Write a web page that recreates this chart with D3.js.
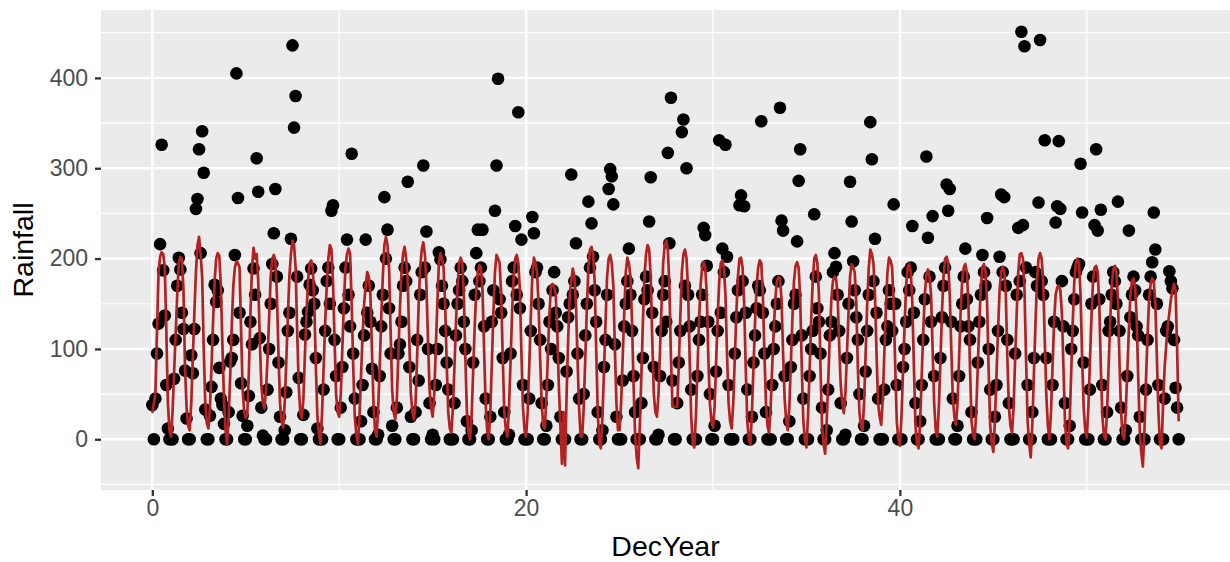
<!DOCTYPE html>
<html>
<head>
<meta charset="utf-8">
<script src="https://cdn.jsdelivr.net/npm/d3@7"></script>
<style>
  body { margin: 0; background: #fff; }
  svg { display: block; font-family: "Liberation Sans", Arial, sans-serif; }
</style>
</head>
<body>
<svg width="1230" height="562"></svg>
<script>
// monthly rainfall, one row per year (DecYear = year + month/12)
var rainfall = [
  38, 0, 45, 95, 128, 216, 326, 187, 137, 60, 12, 0,
  0, 0, 67, 110, 170, 201, 188, 140, 122, 76, 23, 0,
  0, 93, 73, 122, 255, 266, 321, 206, 341, 295, 33, 0,
  0, 26, 58, 110, 171, 152, 165, 79, 45, 38, 17, 0,
  0, 30, 86, 90, 110, 204, 405, 267, 140, 62, 26, 0,
  0, 15, 48, 130, 105, 189, 160, 311, 274, 112, 35, 4,
  0, 0, 55, 100, 150, 194, 228, 277, 180, 85, 25, 0,
  0, 10, 52, 120, 140, 222, 436, 345, 380, 180, 68, 0,
  0, 27, 116, 130, 141, 171, 189, 165, 150, 90, 12, 0,
  0, 0, 55, 120, 175, 190, 150, 253, 259, 110, 70, 0,
  0, 35, 80, 145, 190, 221, 160, 125, 316, 95, 45, 0,
  0, 0, 20, 60, 115, 221, 140, 170, 130, 78, 30, 0,
  0, 5, 70, 125, 160, 268, 200, 232, 145, 95, 15, 0,
  0, 35, 95, 105, 130, 170, 190, 175, 285, 80, 25, 0,
  0, 30, 110, 65, 160, 185, 303, 190, 230, 100, 40, 0,
  5, 0, 60, 100, 207, 199, 170, 150, 120, 85, 55, 0,
  0, 0, 40, 115, 150, 165, 190, 175, 130, 100, 20, 0,
  0, 10, 85, 160, 206, 232, 175, 190, 232, 125, 45, 0,
  0, 25, 130, 165, 253, 303, 399, 155, 140, 90, 30, 0,
  0, 5, 95, 175, 190, 236, 160, 362, 145, 221, 60, 0,
  0, 0, 45, 120, 246, 228, 185, 190, 150, 110, 40, 0,
  0, 15, 60, 130, 100, 165, 185, 140, 125, 90, 25, 0,
  0, 0, 75, 135, 150, 293, 160, 175, 217, 95, 45, 0,
  0, 50, 115, 150, 263, 190, 239, 202, 165, 130, 30, 0,
  0, 10, 80, 110, 160, 277, 299, 291, 260, 105, 25, 0,
  0, 0, 65, 125, 150, 175, 211, 160, 120, 70, 30, 0,
  0, 0, 40, 90, 155, 180, 165, 241, 290, 140, 80, 0,
  0, 5, 70, 120, 160, 175, 130, 317, 217, 378, 65, 0,
  0, 40, 85, 120, 340, 354, 170, 300, 160, 125, 55, 0,
  0, 0, 70, 110, 130, 160, 234, 226, 192, 130, 50, 0,
  0, 15, 75, 120, 331, 140, 211, 185, 326, 202, 60, 0,
  0, 0, 95, 135, 165, 259, 270, 175, 258, 140, 55, 0,
  0, 25, 85, 115, 145, 170, 165, 352, 140, 95, 30, 0,
  0, 0, 60, 100, 125, 150, 175, 367, 242, 231, 70, 0,
  0, 20, 80, 110, 150, 160, 219, 286, 321, 115, 45, 0,
  0, 0, 70, 100, 120, 249, 180, 145, 130, 95, 35, 0,
  0, 10, 55, 115, 130, 185, 206, 191, 160, 120, 40, 0,
  0, 5, 90, 150, 285, 241, 197, 165, 135, 110, 50, 0,
  0, 15, 75, 120, 160, 351, 310, 175, 222, 140, 45, 0,
  0, 0, 55, 110, 125, 165, 150, 120, 260, 150, 60, 0,
  0, 0, 80, 100, 130, 185, 165, 190, 236, 140, 40, 0,
  0, 20, 60, 110, 155, 313, 223, 180, 130, 247, 70, 0,
  0, 0, 90, 135, 170, 190, 282, 253, 277, 130, 45, 0,
  0, 15, 70, 125, 150, 180, 211, 155, 125, 110, 30, 0,
  0, 0, 85, 130, 160, 204, 185, 170, 245, 100, 55, 0,
  0, 25, 60, 120, 202, 271, 185, 268, 170, 110, 40, 0,
  0, 0, 95, 160, 234, 175, 451, 237, 435, 190, 60, 0,
  0, 30, 90, 185, 170, 262, 442, 175, 160, 331, 90, 0,
  0, 0, 60, 130, 240, 258, 330, 255, 175, 125, 40, 0,
  0, 15, 100, 120, 155, 185, 190, 194, 305, 251, 85, 0,
  0, 0, 55, 150, 180, 237, 321, 231, 155, 254, 60, 0,
  0, 30, 120, 130, 160, 185, 175, 150, 263, 120, 35, 0,
  0, 10, 70, 231, 135, 160, 180, 165, 125, 115, 25, 0,
  0, 0, 55, 110, 160, 180, 196, 251, 210, 150, 60, 0,
  0, 0, 45, 120, 125, 186, 175, 167, 110, 57, 35, 0
];

// fitted values (red line), same months
var fitted = [
  29, 40, 52, 120, 185, 202, 207, 205, 190, 120, 40, 10,
  3, 30, 75, 117, 160, 195, 202, 200, 165, 80, 35, 15,
  10, 40, 90, 140, 185, 215, 224, 205, 180, 100, 40, 18,
  12, 35, 80, 130, 175, 200, 206, 203, 170, 105, 45, 10,
  -5, 25, 70, 125, 170, 190, 197, 195, 190, 120, 55, 30,
  24, 28, 75, 140, 190, 212, 200, 205, 175, 110, 60, 40,
  34, 55, 90, 135, 180, 200, 204, 198, 160, 95, 40, 20,
  13, 40, 85, 135, 180, 205, 220, 215, 190, 120, 60, 30,
  23, 45, 95, 140, 175, 195, 198, 190, 150, 80, 25, 5,
  -5, 30, 80, 130, 170, 200, 215, 210, 175, 110, 50, 30,
  25, 50, 100, 150, 190, 205, 211, 205, 150, 80, 25, 5,
  -5, 25, 70, 115, 150, 170, 185, 180, 160, 100, 40, 10,
  3, 35, 80, 135, 180, 215, 224, 215, 190, 120, 55, 30,
  22, 45, 95, 145, 185, 205, 213, 200, 175, 110, 50, 30,
  22, 40, 90, 150, 190, 210, 218, 205, 170, 110, 55, 35,
  25, 50, 100, 150, 195, 206, 200, 190, 150, 85, 30, 12,
  7, 35, 80, 130, 170, 195, 201, 195, 160, 90, 30, 8,
  0, 25, 75, 125, 165, 185, 193, 190, 165, 100, 40, 10,
  0, 30, 85, 140, 185, 204, 200, 195, 160, 90, 30, 10,
  3, 35, 85, 140, 180, 200, 204, 195, 165, 95, 35, 10,
  3, 30, 80, 135, 180, 201, 195, 185, 150, 90, 40, 15,
  12, 45, 95, 140, 170, 172, 168, 160, 120, 60, 15, -27,
  30, -29, 50, 110, 160, 175, 189, 180, 150, 90, 35, 3,
  3, 35, 90, 145, 190, 210, 213, 205, 175, 100, 30, -5,
  -10, 25, 75, 130, 180, 200, 204, 195, 170, 100, 40, 10,
  10, 40, 90, 140, 185, 201, 195, 180, 130, 60, 5, -20,
  -32, 15, 70, 130, 180, 205, 215, 210, 180, 110, 50, 30,
  25, 50, 100, 150, 195, 215, 220, 210, 170, 90, 36, 36,
  36, 36, 80, 135, 185, 205, 210, 200, 165, 90, 25, -5,
  -9, 25, 75, 130, 170, 190, 196, 190, 160, 90, 40, 20,
  13, 35, 85, 135, 175, 195, 198, 190, 160, 95, 40, 20,
  12, 40, 90, 140, 180, 200, 201, 190, 150, 80, 20, 0,
  -5, 30, 80, 130, 170, 190, 198, 195, 160, 95, 40, 15,
  7, 35, 80, 120, 155, 175, 180, 178, 155, 95, 45, 20,
  10, 35, 85, 135, 175, 192, 196, 190, 155, 80, 20, 0,
  -9, 25, 75, 130, 175, 200, 204, 195, 160, 80, 15, -5,
  -16, 20, 65, 115, 155, 175, 180, 178, 160, 105, 60, 40,
  29, 50, 95, 140, 180, 194, 190, 185, 150, 80, 30, 15,
  10, 40, 95, 150, 190, 210, 205, 195, 160, 95, 40, 25,
  16, 45, 95, 145, 185, 201, 198, 190, 150, 80, 20, 0,
  -7, 25, 75, 125, 170, 190, 194, 185, 150, 80, 15, -5,
  -10, 20, 70, 120, 160, 182, 188, 180, 160, 100, 40, 10,
  3, 35, 85, 140, 180, 200, 202, 195, 160, 100, 45, 25,
  16, 40, 90, 140, 175, 190, 194, 185, 150, 80, 20, 5,
  0, 30, 80, 130, 170, 190, 194, 185, 150, 75, 15, -5,
  -14, 20, 70, 120, 165, 185, 191, 185, 160, 90, 35, 15,
  7, 35, 90, 140, 185, 205, 206, 200, 165, 90, 20, -5,
  -20, 15, 70, 125, 175, 200, 206, 200, 175, 110, 50, 15,
  0, 30, 80, 130, 160, 168, 170, 165, 140, 80, 20, -5,
  -10, 20, 75, 130, 175, 195, 200, 195, 160, 90, 35, 10,
  2, 35, 85, 135, 175, 190, 192, 185, 150, 80, 25, 5,
  0, 30, 80, 130, 170, 188, 192, 185, 155, 85, 30, 5,
  0, 30, 75, 120, 160, 175, 178, 170, 135, 70, 10, -15,
  -30, 10, 65, 115, 155, 172, 178, 175, 150, 90, 30, -5,
  -10, 40, 80, 104, 125, 140, 155, 165, 172, 165, 100, 20
];

var xMajor = [0, 20, 40],
    xMinor = [10, 30, 50],
    yMajor = [0, 100, 200, 300, 400],
    yMinor = [-50, 50, 150, 250, 350, 450];

var data = rainfall.map(function(r, i) {
  return { year: i / 12, rain: r, fit: fitted[i] };
});

var svg = d3.select("svg"),
    panel = { left: 101, right: 1230, top: 10, bottom: 490 };

// ggplot style 5% expansion
function expand(ext) {
  var pad = (ext[1] - ext[0]) * 0.05;
  return [ext[0] - pad, ext[1] + pad];
}

var x = d3.scaleLinear()
    .domain(expand(d3.extent(data, function(d) { return d.year; })))
    .range([panel.left, panel.right]);

var y = d3.scaleLinear()
    .domain(expand([d3.min(data, function(d) { return Math.min(d.rain, d.fit); }),
                    d3.max(data, function(d) { return Math.max(d.rain, d.fit); })]))
    .range([panel.bottom, panel.top]);

svg.append("rect")
    .attr("x", panel.left).attr("y", panel.top)
    .attr("width", panel.right - panel.left)
    .attr("height", panel.bottom - panel.top)
    .attr("fill", "#EBEBEB");

var grid = svg.append("g").attr("stroke", "#fff");

grid.selectAll(".ymin").data(yMinor).enter().append("line")
    .attr("x1", panel.left).attr("x2", panel.right)
    .attr("y1", function(d) { return y(d); }).attr("y2", function(d) { return y(d); })
    .attr("stroke-width", 1.2);
grid.selectAll(".xmin").data(xMinor).enter().append("line")
    .attr("y1", panel.top).attr("y2", panel.bottom)
    .attr("x1", function(d) { return x(d); }).attr("x2", function(d) { return x(d); })
    .attr("stroke-width", 1.2);
grid.selectAll(".ymaj").data(yMajor).enter().append("line")
    .attr("x1", panel.left).attr("x2", panel.right)
    .attr("y1", function(d) { return y(d); }).attr("y2", function(d) { return y(d); })
    .attr("stroke-width", 2.4);
grid.selectAll(".xmaj").data(xMajor).enter().append("line")
    .attr("y1", panel.top).attr("y2", panel.bottom)
    .attr("x1", function(d) { return x(d); }).attr("x2", function(d) { return x(d); })
    .attr("stroke-width", 2.4);

var clip = svg.append("clipPath").attr("id", "clip")
  .append("rect")
    .attr("x", panel.left).attr("y", panel.top)
    .attr("width", panel.right - panel.left)
    .attr("height", panel.bottom - panel.top);

var plot = svg.append("g").attr("clip-path", "url(#clip)");

plot.selectAll("circle")
    .data(data)
  .enter().append("circle")
    .attr("cx", function(d) { return x(d.year); })
    .attr("cy", function(d) { return y(d.rain); })
    .attr("r", 6.3)
    .attr("fill", "#000");

var line = d3.line()
    .x(function(d) { return x(d.year); })
    .y(function(d) { return y(d.fit); });

plot.append("path")
    .datum(data)
    .attr("d", line)
    .attr("fill", "none")
    .attr("stroke", "#B22222")
    .attr("stroke-width", 2.7)
    .attr("stroke-linejoin", "round");

// axes
var xAxis = svg.append("g")
    .attr("transform", "translate(0," + panel.bottom + ")")
    .call(d3.axisBottom(x).tickValues(xMajor).tickSize(6).tickPadding(4));

var yAxis = svg.append("g")
    .attr("transform", "translate(" + panel.left + ",0)")
    .call(d3.axisLeft(y).tickValues(yMajor).tickSize(6).tickPadding(7));

[xAxis, yAxis].forEach(function(a) {
  a.select(".domain").remove();
  a.selectAll(".tick line").attr("stroke", "#333333").attr("stroke-width", 2.3);
  a.selectAll(".tick text")
      .attr("fill", "#4D4D4D")
      .style("font-size", "23px")
      .style("font-family", "'Liberation Sans', Arial, sans-serif");
});

svg.append("text")
    .attr("x", (panel.left + panel.right) / 2)
    .attr("y", 556)
    .attr("text-anchor", "middle")
    .style("font-size", "28.5px")
    .text("DecYear");

svg.append("text")
    .attr("transform", "translate(33," + (panel.top + panel.bottom) / 2 + ") rotate(-90)")
    .attr("text-anchor", "middle")
    .style("font-size", "28.5px")
    .text("Rainfall");
</script>
</body>
</html>
